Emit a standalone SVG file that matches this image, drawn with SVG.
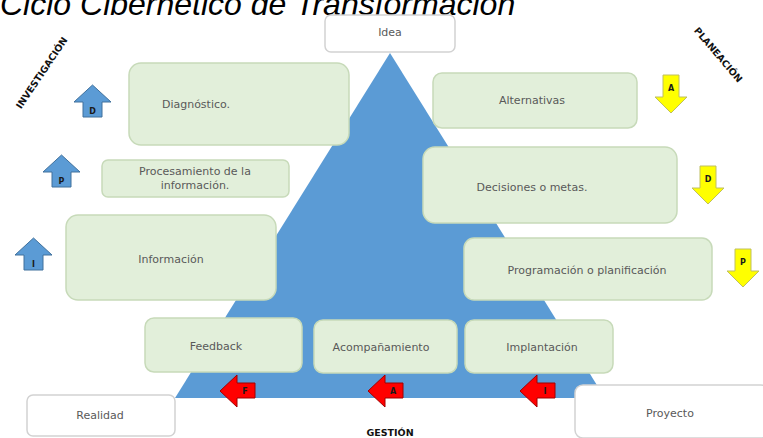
<svg xmlns="http://www.w3.org/2000/svg" width="763" height="438" viewBox="0 0 763 438">
<style>
.title{font-family:"Liberation Sans",Arial,sans-serif;font-style:italic;font-size:32px;fill:#000}
.box{fill:#e2efda;stroke:#c7dab9;stroke-width:1.5}
.wbox{fill:#fff;stroke:#d2d2d2;stroke-width:1.5}
.t{font-family:"DejaVu Sans",sans-serif;font-size:11px;fill:#595959;text-anchor:middle}
.lbl{font-family:"DejaVu Sans",sans-serif;font-weight:bold;font-size:9.5px;fill:#111;text-anchor:middle}
.let{font-family:"DejaVu Sans",sans-serif;font-weight:bold;font-size:8px;fill:#1a1a1a;text-anchor:middle}
.blue{fill:#5b9bd5;stroke:#41719c;stroke-width:1}
.yel{fill:#ffff00;stroke:#bfbf60;stroke-width:1}
.red{fill:#ff0000;stroke:#a00000;stroke-width:1}
</style>
<defs>
<path id="up" d="M18.5,0 L37,17 L28,17 L28,32 L9,32 L9,17 L0,17 Z"/>
<path id="down" d="M8,0 L24,0 L24,22 L32,22 L16,38 L0,22 L8,22 Z"/>
<path id="left" d="M0,16 L17,0 L17,8 L35,8 L35,23 L17,23 L17,32 Z"/>
</defs>
<rect width="763" height="438" fill="#fff"/>
<text class="title" x="0" y="15">Ciclo Cibernético de Transformación</text>

<g id="triangle"><path d="M390,53 L605,398 L175,398 Z" fill="#5b9bd5"/></g>

<g id="idea"><rect class="wbox" x="325" y="15" width="130" height="37" rx="6"/><text class="t" x="390" y="36">Idea</text></g>
<g id="diagnostico"><rect class="box" x="129" y="63" width="220" height="82" rx="12"/><text class="t" x="196" y="108">Diagnóstico.</text></g>
<g id="alternativas"><rect class="box" x="433" y="73" width="204" height="55" rx="9"/><text class="t" x="532" y="104">Alternativas</text></g>
<g id="decisiones"><rect class="box" x="423" y="147" width="254" height="76" rx="12"/><text class="t" x="532" y="191">Decisiones o metas.</text></g>
<g id="procesamiento"><rect class="box" x="102" y="160" width="187" height="37" rx="6"/><text class="t" x="195" y="175">Procesamiento de la</text><text class="t" x="195" y="189">información.</text></g>
<g id="informacion"><rect class="box" x="66" y="215" width="210" height="85" rx="12"/><text class="t" x="171" y="263">Información</text></g>
<g id="programacion"><rect class="box" x="464" y="238" width="248" height="62" rx="10"/><text class="t" x="587" y="274">Programación o planificación</text></g>
<g id="feedback"><rect class="box" x="145" y="318" width="157" height="54" rx="9"/><text class="t" x="216" y="350">Feedback</text></g>
<g id="acompanamiento"><rect class="box" x="314" y="320" width="143" height="53" rx="9"/><text class="t" x="381" y="351">Acompañamiento</text></g>
<g id="implantacion"><rect class="box" x="465" y="320" width="148" height="53" rx="9"/><text class="t" x="542" y="351">Implantación</text></g>
<g id="realidad"><rect class="wbox" x="27" y="395" width="148" height="41" rx="6"/><text class="t" x="100" y="419">Realidad</text></g>
<g id="proyecto"><rect class="wbox" x="575" y="385" width="194" height="53" rx="8"/><text class="t" x="670" y="417">Proyecto</text></g>

<g id="labels">
<text class="lbl" transform="translate(42,73) rotate(-56)" y="3">INVESTIGACIÓN</text>
<text class="lbl" transform="translate(718,55) rotate(49.5)" y="3">PLANEACIÓN</text>
<text class="lbl" x="390" y="436">GESTIÓN</text>
</g>

<g id="arrows">
<g transform="translate(74,85)"><use href="#up" class="blue"/><text class="let" x="18.5" y="29">D</text></g>
<g transform="translate(43,155)"><use href="#up" class="blue"/><text class="let" x="18.5" y="29">P</text></g>
<g transform="translate(15,238)"><use href="#up" class="blue"/><text class="let" x="18.5" y="29">I</text></g>
<g transform="translate(655,75)"><use href="#down" class="yel"/><text class="let" x="16" y="16">A</text></g>
<g transform="translate(692,166)"><use href="#down" class="yel"/><text class="let" x="16" y="16">D</text></g>
<g transform="translate(727,249)"><use href="#down" class="yel"/><text class="let" x="16" y="16">P</text></g>
<g transform="translate(220,375)"><use href="#left" class="red"/><text class="let" x="25" y="19">F</text></g>
<g transform="translate(368,375)"><use href="#left" class="red"/><text class="let" x="25" y="19">A</text></g>
<g transform="translate(520,375)"><use href="#left" class="red"/><text class="let" x="25" y="19">I</text></g>
</g>
</svg>
